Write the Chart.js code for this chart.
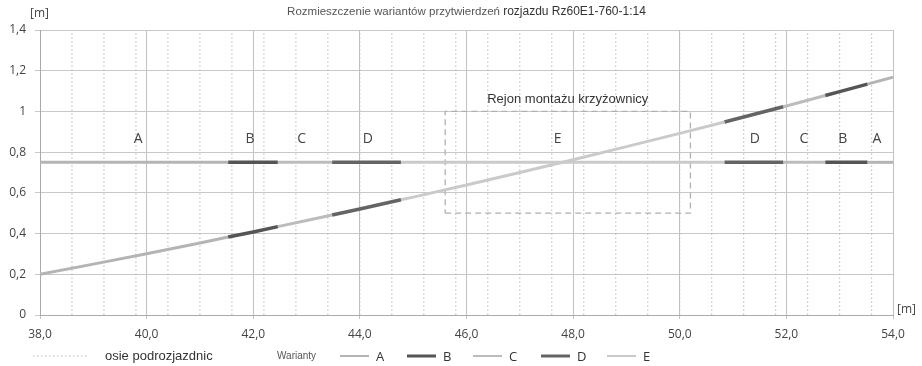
<!DOCTYPE html>
<html>
<head>
<meta charset="utf-8">
<script src="https://cdn.jsdelivr.net/npm/chart.js@4.4.0/dist/chart.umd.min.js"></script>
<style>body{margin:0;background:#fff}canvas{display:block}</style>
</head>
<body>
<canvas id="myChart" width="922" height="366"></canvas>
<script>
// segment boundaries along the turnout [m] and the variant in each segment
var breaks = [38, 41.53, 42.46, 43.48, 44.77, 50.84, 51.94, 52.73, 53.52, 54];
var segVariant = ['A', 'B', 'C', 'D', 'E', 'D', 'C', 'B', 'A'];
// straight track
var straightY = 0.75;
// diverging track
var divergeX = [38, 39, 40, 41, 41.53, 42, 42.46, 43, 43.48, 44, 44.77, 45, 46, 47, 48, 49, 50, 50.84, 51, 51.94, 52, 52.73, 53, 53.52, 54];
var divergeY = [0.200, 0.250, 0.301, 0.354, 0.383, 0.408, 0.434, 0.464, 0.491, 0.521, 0.566, 0.579, 0.639, 0.700, 0.763, 0.827, 0.892, 0.948, 0.959, 1.023, 1.027, 1.078, 1.097, 1.134, 1.168];
// sleeper axes (osie podrozjazdnic)
var sleeperX = [38.6, 39.2, 39.8, 40.4, 41.0, 41.6, 42.2, 42.8, 43.4, 44.0, 44.6, 45.2, 45.8, 46.4, 47.0, 47.6, 48.2, 48.8, 49.4, 50.0, 50.6, 51.2, 51.8, 52.4, 53.0, 53.6];
// frog assembly zone
var zoneX = [45.6, 50.2];
var zoneY = [0.5, 1.0];
// variant letters above the straight track
var letterText = ['A', 'B', 'C', 'D', 'E', 'D', 'C', 'B', 'A'];
var letterX = [39.84, 41.94, 42.91, 44.15, 47.71, 51.41, 52.33, 53.06, 53.7];
var letterY = 0.866;
var xTickLabels = ['38,0', '40,0', '42,0', '44,0', '46,0', '48,0', '50,0', '52,0', '54,0'];
var yTickLabels = ['0', '0,2', '0,4', '0,6', '0,8', '1', '1,2', '1,4'];
var variants = ['A', 'B', 'C', 'D', 'E'];

var variantColor = {A: '#b4b4b4', B: '#555555', C: '#bcbcbc', D: '#646464', E: '#cacaca'};
var darkVariant = {B: true, D: true};

var datasets = [];
for (var i = 0; i < segVariant.length; i++) {
    var v = segVariant[i];
    var style = {
        borderColor: variantColor[v],
        borderWidth: darkVariant[v] ? 3.5 : 3,
        pointRadius: 0,
        showLine: true,
        order: darkVariant[v] ? 1 : 5
    };
    datasets.push(Object.assign({
        label: v,
        data: [{x: breaks[i], y: straightY}, {x: breaks[i + 1], y: straightY}]
    }, style));
    var pts = [];
    for (var j = 0; j < divergeX.length; j++) {
        if (divergeX[j] >= breaks[i] && divergeX[j] <= breaks[i + 1]) {
            pts.push({x: divergeX[j], y: divergeY[j]});
        }
    }
    datasets.push(Object.assign({label: v, data: pts}, style));
}

var sleeperPts = [];
sleeperX.forEach(function (sx) {
    sleeperPts.push({x: sx, y: 0}, {x: sx, y: 1.4}, {x: sx, y: null});
});
datasets.push({
    label: 'osie podrozjazdnic',
    data: sleeperPts,
    borderColor: '#b8b8b8',
    borderWidth: 1,
    borderDash: [1.5, 2.5],
    pointRadius: 0,
    showLine: true,
    spanGaps: false,
    order: 10
});
datasets.push({
    label: 'Rejon',
    data: [{x: zoneX[0], y: zoneY[0]}, {x: zoneX[1], y: zoneY[0]}, {x: zoneX[1], y: zoneY[1]},
           {x: zoneX[0], y: zoneY[1]}, {x: zoneX[0], y: zoneY[0]}],
    borderColor: '#b0b0b0',
    borderWidth: 1.3,
    borderDash: [6, 4],
    pointRadius: 0,
    showLine: true,
    order: 9
});

var textPlugin = {
    id: 'texts',
    afterDraw: function (chart) {
        var ctx = chart.ctx, x = chart.scales.x, y = chart.scales.y;
        ctx.save();
        ctx.textBaseline = 'middle';

        // variant letters
        ctx.fillStyle = '#444';
        ctx.font = '14px "Open Sans"';
        ctx.textAlign = 'center';
        for (var k = 0; k < letterText.length; k++) {
            ctx.fillText(letterText[k], x.getPixelForValue(letterX[k]), y.getPixelForValue(letterY));
        }
        ctx.font = '13px "Liberation Sans"';
        ctx.fillStyle = '#333';
        ctx.fillText('Rejon montażu krzyżownicy', x.getPixelForValue((zoneX[0] + zoneX[1]) / 2), y.getPixelForValue(zoneY[1] + 0.06));

        // title
        var t1 = 'Rozmieszczenie wariantów przytwierdzeń ';
        var t2 = 'rozjazdu Rz60E1-760-1:14';
        ctx.font = '11.5px "Liberation Sans"';
        var w1 = ctx.measureText(t1).width;
        ctx.font = '12px "Liberation Sans"';
        var w2 = ctx.measureText(t2).width;
        var sx = (x.left + x.right) / 2 - (w1 + w2) / 2;
        ctx.textAlign = 'left';
        ctx.fillStyle = '#555';
        ctx.font = '11.5px "Liberation Sans"';
        ctx.fillText(t1, sx, 12);
        ctx.fillStyle = '#333';
        ctx.font = '12px "Liberation Sans"';
        ctx.fillText(t2, sx + w1, 12);

        // axis units
        ctx.fillStyle = '#444';
        ctx.font = '12px "Open Sans"';
        ctx.fillText('[m]', 30, 14);
        ctx.fillText('[m]', 897, 310);

        // legend
        var ly = 356;
        ctx.strokeStyle = '#b8b8b8';
        ctx.lineWidth = 1;
        ctx.setLineDash([1.5, 2.5]);
        ctx.beginPath(); ctx.moveTo(33, ly); ctx.lineTo(89, ly); ctx.stroke();
        ctx.setLineDash([]);
        ctx.fillStyle = '#333';
        ctx.font = '13px "Liberation Sans"';
        ctx.fillText('osie podrozjazdnic', 105, ly);
        ctx.fillStyle = '#555';
        ctx.font = '10px "Liberation Sans"';
        ctx.fillText('Warianty', 277, ly);
        var lx = [340, 407, 473, 541, 607];
        ctx.font = '13px "Open Sans"';
        for (var n = 0; n < variants.length; n++) {
            ctx.strokeStyle = variantColor[variants[n]];
            ctx.lineWidth = darkVariant[variants[n]] ? 3 : 2;
            ctx.beginPath(); ctx.moveTo(lx[n], ly); ctx.lineTo(lx[n] + 29, ly); ctx.stroke();
            ctx.fillStyle = '#333';
            ctx.fillText(variants[n], lx[n] + 36, ly + 1);
        }
        ctx.restore();
    }
};

var ctx = document.getElementById('myChart').getContext('2d');
var chart = new Chart(ctx, {
    type: 'scatter',
    data: {datasets: datasets},
    options: {
        responsive: false,
        animation: false,
        events: [],
        layout: {padding: {top: 30, right: 29, bottom: 25, left: 0}},
        plugins: {legend: {display: false}, tooltip: {enabled: false}, title: {display: false}},
        scales: {
            x: {
                type: 'linear',
                min: 38,
                max: 54,
                afterFit: function (s) { s.height = 26; },
                ticks: {
                    stepSize: 2,
                    padding: 8,
                    color: '#444',
                    font: {family: 'Open Sans', size: 12},
                    callback: function (val, idx) { return xTickLabels[idx]; }
                },
                grid: {color: '#c2c2c2', tickLength: 4},
                border: {color: '#aaa'}
            },
            y: {
                min: 0,
                max: 1.4,
                afterFit: function (s) { s.width = 40; },
                ticks: {
                    stepSize: 0.2,
                    padding: 9,
                    color: '#444',
                    font: {family: 'Open Sans', size: 12},
                    callback: function (val, idx) { return yTickLabels[idx]; }
                },
                grid: {color: '#c8c8c8', tickLength: 5},
                border: {color: '#aaa'}
            }
        }
    },
    plugins: [textPlugin]
});
</script>
</body>
</html>
